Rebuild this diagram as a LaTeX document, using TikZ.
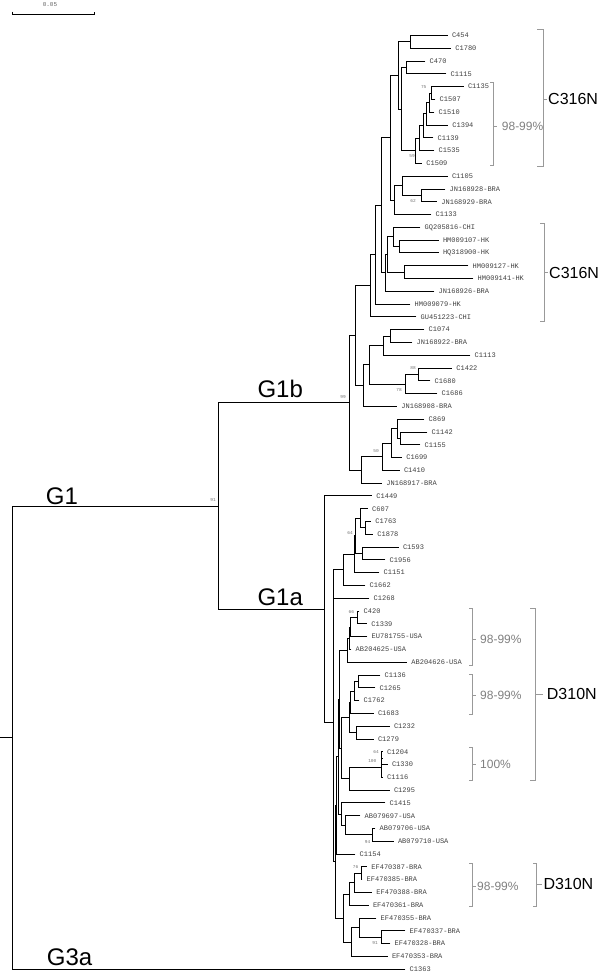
\documentclass[tikz,border=0pt]{standalone}
\usepackage{fontspec}
\setmainfont{Liberation Sans}
\newfontfamily\monof{Liberation Mono}
\newcommand\myleaf[3]{\coordinate (t#1) at (#2,{L(#1)}); \node[leaf] (l#1) at (t#1) {#3};}
\newcommand\myclade[3]{\coordinate (#1) at (#2,{L(#3)});}
\newcommand\myedge[3]{\draw[br] (#1) |- (#2); \draw[br] (#1) |- (#3);}
\newcommand\mybrk[6]{\draw[brk] ({#1-#5},#2) -- (#1,#2) -- (#1,#3) -- ({#1-#5},#3); \draw[brk] (#1,#4) -- (#6,#4);}
\begin{document}
\begin{tikzpicture}[x=1pt,y=-1pt,
  declare function={L(\i)=35.5+(\i-1)*12.79;},
  br/.style={draw=black, line width=0.9pt, line cap=rect},
  leaf/.style={anchor=west, inner sep=0pt, xshift=4.5pt, font=\monof\fontsize{7}{8}\selectfont, text=black!75},
  bs/.style={inner sep=0pt, font=\monof\fontsize{4.5}{5}\selectfont, text=black!55},
  brk/.style={draw=black!40, line width=0.6pt},
  pct/.style={anchor=west, inner sep=0pt, font=\fontsize{12}{14}\selectfont, text=black!50},
  mut/.style={anchor=west, inner sep=0pt, font=\fontsize{16}{18}\selectfont, text=black},
  grp/.style={anchor=base west, inner sep=0pt, font=\fontsize{24}{28}\selectfont, text=black}]
\useasboundingbox (0,0) rectangle (600,973);
% ---------- leaves ----------
\myleaf{1}{447.3}{C454}
\myleaf{2}{450.7}{C1780}
\myleaf{3}{425}{C470}
\myleaf{4}{446}{C1115}
\myleaf{5}{463.3}{C1135}
\myleaf{6}{435}{C1507}
\myleaf{7}{434}{C1510}
\myleaf{8}{447.7}{C1394}
\myleaf{9}{433}{C1139}
\myleaf{10}{434}{C1535}
\myleaf{11}{421.7}{C1509}
\myleaf{12}{447.3}{C1105}
\myleaf{13}{445}{JN168928-BRA}
\myleaf{14}{436.7}{JN168929-BRA}
\myleaf{15}{431}{C1133}
\myleaf{16}{420}{GQ205816-CHI}
\myleaf{17}{438.3}{HM009107-HK}
\myleaf{18}{438.3}{HQ318900-HK}
\myleaf{19}{468}{HM009127-HK}
\myleaf{20}{473}{HM009141-HK}
\myleaf{21}{434}{JN168926-BRA}
\myleaf{22}{410}{HM009079-HK}
\myleaf{23}{416}{GU451223-CHI}
\myleaf{24}{424}{C1074}
\myleaf{25}{412}{JN168922-BRA}
\myleaf{26}{470}{C1113}
\myleaf{27}{451.7}{C1422}
\myleaf{28}{430}{C1680}
\myleaf{29}{437}{C1686}
\myleaf{30}{396.7}{JN168908-BRA}
\myleaf{31}{424}{C869}
\myleaf{32}{427}{C1142}
\myleaf{33}{420}{C1155}
\myleaf{34}{401.7}{C1699}
\myleaf{35}{399.3}{C1410}
\myleaf{36}{381.7}{JN168917-BRA}
\myleaf{37}{371.7}{C1449}
\myleaf{38}{367.5}{C607}
\myleaf{39}{370.7}{C1763}
\myleaf{40}{372.7}{C1878}
\myleaf{41}{398.3}{C1593}
\myleaf{42}{385}{C1956}
\myleaf{43}{379}{C1151}
\myleaf{44}{365}{C1662}
\myleaf{45}{369}{C1268}
\myleaf{46}{359}{C420}
\myleaf{47}{366.7}{C1339}
\myleaf{48}{367}{EU781755-USA}
\myleaf{49}{351}{AB204625-USA}
\myleaf{50}{406.7}{AB204626-USA}
\myleaf{51}{380}{C1136}
\myleaf{52}{375}{C1265}
\myleaf{53}{359}{C1762}
\myleaf{54}{373.3}{C1683}
\myleaf{55}{389.3}{C1232}
\myleaf{56}{373.3}{C1279}
\myleaf{57}{382.5}{C1204}
\myleaf{58}{387.3}{C1330}
\myleaf{59}{382.5}{C1116}
\myleaf{60}{389.3}{C1295}
\myleaf{61}{385}{C1415}
\myleaf{62}{360}{AB079697-USA}
\myleaf{63}{375}{AB079706-USA}
\myleaf{64}{393.3}{AB079710-USA}
\myleaf{65}{355}{C1154}
\myleaf{66}{366.7}{EF470387-BRA}
\myleaf{67}{362}{EF470385-BRA}
\myleaf{68}{371.7}{EF470388-BRA}
\myleaf{69}{368.3}{EF470361-BRA}
\myleaf{70}{376}{EF470355-BRA}
\myleaf{71}{405}{EF470337-BRA}
\myleaf{72}{390}{EF470328-BRA}
\myleaf{73}{387.3}{EF470353-BRA}
\myleaf{74}{405}{C1363}
% ---------- internal nodes ----------
\myclade{r}{12.3}{55.9}
\coordinate (rs) at (0,{L(55.9)});
\myclade{g1}{218.3}{37.8}
\myclade{g1b}{349}{29.72}
\myclade{nU}{355}{24.47}
\myclade{nUp}{370.7}{20.57}
\myclade{nV}{375.7}{18.14}
\myclade{nW}{381.7}{14.28}
\myclade{nX}{390.7}{9.0}
\myclade{nY}{398.3}{4.13}
\myclade{nY1}{410}{1.5}
\myclade{nY2}{401}{6.76}
\myclade{nY3}{406.7}{3.5}
\myclade{nP}{415.3}{10.02}
\myclade{nP1}{419}{9.03}
\myclade{nP2}{423.3}{8.06}
\myclade{nP3}{426}{7.125}
\myclade{nP4}{429.3}{6.25}
\myclade{nP5}{431.7}{5.5}
\myclade{nZ}{394.3}{13.875}
\myclade{nZ1}{402.7}{12.75}
\myclade{nJN}{421.7}{13.5}
\myclade{nT}{385}{19.56}
\myclade{nS}{387.3}{18.125}
\myclade{nQ}{393.3}{16.75}
\myclade{nHK}{399}{17.5}
\myclade{nR}{404}{19.5}
\myclade{nm0}{363.3}{28.375}
\myclade{nm1}{369.3}{26.75}
\myclade{nm2}{383.3}{25.25}
\myclade{nm4}{390}{24.5}
\myclade{nm3}{405}{28.25}
\myclade{nm5}{418.3}{27.5}
\myclade{nJ1}{361}{34.97}
\myclade{n50}{382.3}{33.94}
\myclade{nc3}{391.7}{32.875}
\myclade{nc2}{397}{31.75}
\myclade{nc1}{400}{32.5}
\myclade{g1a}{324}{45.87}
\myclade{ga1}{333}{54.74}
\myclade{gTop}{333.7}{43.89}
\myclade{gT1}{343}{42.78}
\myclade{gT2}{354}{41.56}
\myclade{gT3}{355.5}{40.125}
\myclade{gA}{360.3}{38.75}
\myclade{gA2}{365.7}{39.5}
\myclade{gB}{362.7}{41.5}
\myclade{gBot}{335}{65.6}
\myclade{n11}{336.5}{61.19}
\myclade{n10}{338}{57.39}
\myclade{n8}{339.5}{52.9}
\myclade{nD1}{347.3}{49.06}
\myclade{nAB}{349}{48.125}
\myclade{nEU}{350.5}{47.25}
\myclade{nC420}{357.3}{46.5}
\myclade{n7}{341.5}{56.72}
\myclade{n5}{349.5}{54.31}
\myclade{n3}{350.5}{53.125}
\myclade{n2}{354.7}{52.25}
\myclade{n1}{358.7}{51.5}
\myclade{n4}{356.7}{55.5}
\myclade{n6}{349.3}{59.125}
\myclade{n100}{381.5}{58.25}
\myclade{n64}{381.7}{57.5}
\myclade{n9}{341.5}{61.875}
\myclade{nAB3}{345}{62.75}
\myclade{nAB2}{372.7}{63.5}
\myclade{nEF}{343.3}{70.0}
\myclade{nE3}{349.3}{68.125}
\myclade{nE2}{354.3}{67.25}
\myclade{nE1}{361}{66.5}
\myclade{nE6}{351.7}{71.875}
\myclade{nE5}{359.3}{70.75}
\myclade{nE4}{381.7}{71.5}
% ---------- branches ----------
\draw[br] (rs) -- (r);
\myedge{r}{g1}{t74}
\myedge{g1}{g1b}{g1a}
\myedge{g1b}{nU}{nJ1}
\myedge{nU}{nUp}{nm0}
\myedge{nUp}{nV}{t23}
\myedge{nV}{nW}{t22}
\myedge{nW}{nX}{nT}
\myedge{nX}{nY}{nZ}
\myedge{nY}{nY1}{nY2}
\myedge{nY1}{t1}{t2}
\myedge{nY2}{nY3}{nP}
\myedge{nY3}{t3}{t4}
\myedge{nP}{nP1}{t11}
\myedge{nP1}{nP2}{t10}
\myedge{nP2}{nP3}{t9}
\myedge{nP3}{nP4}{t8}
\myedge{nP4}{nP5}{t7}
\myedge{nP5}{t5}{t6}
\myedge{nZ}{nZ1}{t15}
\myedge{nZ1}{t12}{nJN}
\myedge{nJN}{t13}{t14}
\myedge{nT}{nS}{t21}
\myedge{nS}{nQ}{nR}
\myedge{nQ}{t16}{nHK}
\myedge{nHK}{t17}{t18}
\myedge{nR}{t19}{t20}
\myedge{nm0}{nm1}{t30}
\myedge{nm1}{nm2}{nm3}
\myedge{nm2}{nm4}{t26}
\myedge{nm4}{t24}{t25}
\myedge{nm3}{nm5}{t29}
\myedge{nm5}{t27}{t28}
\myedge{nJ1}{n50}{t36}
\myedge{n50}{nc3}{t35}
\myedge{nc3}{nc2}{t34}
\myedge{nc2}{t31}{nc1}
\myedge{nc1}{t32}{t33}
\myedge{g1a}{t37}{ga1}
\myedge{ga1}{gTop}{gBot}
\myedge{gTop}{gT1}{t45}
\myedge{gT1}{gT2}{t44}
\myedge{gT2}{gT3}{t43}
\myedge{gT3}{gA}{gB}
\myedge{gA}{t38}{gA2}
\myedge{gA2}{t39}{t40}
\myedge{gB}{t41}{t42}
\myedge{gBot}{n11}{nEF}
\myedge{n11}{n10}{t65}
\myedge{n10}{n8}{n9}
\myedge{n8}{nD1}{n7}
\myedge{nD1}{nAB}{t50}
\myedge{nAB}{nEU}{t49}
\myedge{nEU}{nC420}{t48}
\myedge{nC420}{t46}{t47}
\myedge{n7}{n5}{n6}
\myedge{n5}{n3}{n4}
\myedge{n3}{n2}{t54}
\myedge{n2}{n1}{t53}
\myedge{n1}{t51}{t52}
\myedge{n4}{t55}{t56}
\myedge{n6}{n100}{t60}
\myedge{n100}{n64}{t59}
\myedge{n64}{t57}{t58}
\myedge{n9}{t61}{nAB3}
\myedge{nAB3}{t62}{nAB2}
\myedge{nAB2}{t63}{t64}
\myedge{nEF}{nE3}{nE6}
\myedge{nE3}{nE2}{t69}
\myedge{nE2}{nE1}{t68}
\myedge{nE1}{t66}{t67}
\myedge{nE6}{nE5}{t73}
\myedge{nE5}{t70}{nE4}
\myedge{nE4}{t71}{t72}
% ---------- bootstrap values ----------
\node[bs] (b91) at (213,500) {91};
\node[bs] (b99) at (343,397) {99};
\node[bs] (b75) at (423.7,86.7) {75};
\node[bs] (b59) at (412,156) {59};
\node[bs] (b62) at (413,200.7) {62};
\node[bs] (b88) at (413,368.3) {88};
\node[bs] (b78) at (399,390) {78};
\node[bs] (b50) at (376,450.7) {50};
\node[bs] (b64a) at (350,533.3) {64};
\node[bs] (b66) at (351.3,611.7) {66};
\node[bs] (b64b) at (376,751.7) {64};
\node[bs] (b100) at (372.3,761) {100};
\node[bs] (b94) at (367.5,841.7) {94};
\node[bs] (b76) at (355.5,867.3) {76};
\node[bs] (b91b) at (375,943.3) {91};
% ---------- group labels ----------
\node[grp] (G1) at (45.7,504) {G1};
\node[grp] (G1b) at (257.3,397.3) {G1b};
\node[grp] (G1a) at (257.3,605) {G1a};
\node[grp] (G3a) at (46.7,965) {G3a};
% ---------- brackets ----------
\mybrk{493.3}{82.3}{165.7}{126.7}{3}{497.3}
\node[pct] (p1) at (501.7,126.7) {98-99\%};
\mybrk{543.3}{29}{166.7}{99}{6}{547}
\node[mut] (m1) at (548,99) {C316N};
\mybrk{544}{223.3}{321}{272.7}{4}{548}
\node[mut] (m2) at (549,272.7) {C316N};
\mybrk{472.3}{608.3}{665.7}{639.3}{3}{476}
\node[pct] (p2) at (480,639.3) {98-99\%};
\mybrk{472.3}{674.3}{714.3}{695.7}{3}{476}
\node[pct] (p3) at (480,695.7) {98-99\%};
\mybrk{472.3}{747.7}{780}{764}{3}{476}
\node[pct] (p4) at (480,764) {100\%};
\mybrk{535}{608.3}{780}{694}{5}{543}
\node[mut] (m3) at (546.7,694) {D310N};
\mybrk{472.3}{863.3}{906.7}{886}{3}{476}
\node[pct] (p5) at (477,886) {98-99\%};
\mybrk{536}{863.3}{906.7}{884.3}{3}{541.7}
\node[mut] (m4) at (543.3,884.3) {D310N};
% ---------- scale bar ----------
\coordinate (sb1) at (12.3,11.7);
\coordinate (sb2) at (94.3,11.7);
\draw[draw=black, line width=0.9pt] (sb1) -- ++(0,2.6) -| (sb2);
\node[inner sep=0pt, font=\monof\fontsize{6}{7}\selectfont, text=black!60] (sbl) at (50,4.5) {0.05};
\end{tikzpicture}
\end{document}
